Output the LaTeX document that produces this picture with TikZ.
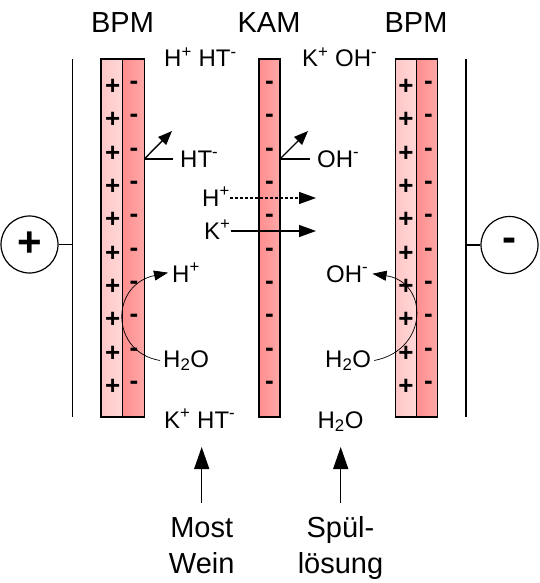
\documentclass[tikz,border=0pt]{standalone}
\usepackage{fontspec}
\setmainfont{Liberation Sans}
\usetikzlibrary{arrows.meta}
\definecolor{memlight}{HTML}{FFC6C6}
\definecolor{memlightB}{HTML}{FFD8D8}
\definecolor{memdark}{HTML}{FF8E8E}
\definecolor{memdarkB}{HTML}{FFA8A8}
\tikzset{
  mline/.style={line width=1.4pt},
  big/.style={font=\fontsize{29}{36}\selectfont, inner sep=0pt},
  ion/.style={font=\fontsize{24}{28}\selectfont, inner sep=0pt},
  sign/.style={font=\fontsize{26}{26}\selectfont\bfseries, inner sep=0pt},
  csign/.style={draw, line width=1.2pt, circle, minimum size=57pt, inner sep=0pt, font=\fontsize{42}{42}\selectfont\bfseries},
  arr/.style={line width=1.4pt, -{Triangle[length=17pt,width=12pt]}},
  smallarr/.style={line width=1.4pt, -{Triangle[length=14pt,width=11pt]}},
  curvarr/.style={line width=0.7pt, -{Triangle[length=14pt,width=10pt]}},
  bigarr/.style={line width=1.4pt, -{Triangle[length=22pt,width=15pt]}},
}
\begin{document}
\begin{tikzpicture}[x=1pt,y=-1pt]
\path[use as bounding box] (0,0) rectangle (539,583);

% membranes
\path[mline, draw, left color=memlight, right color=memlightB] (101,59) rectangle (122.7,417);
\path[mline, draw, left color=memdark, right color=memdarkB] (122.7,59) rectangle (144.3,417);
\path[mline, draw, left color=memdark, right color=memdarkB] (259,59) rectangle (280,417);
\path[mline, draw, left color=memlight, right color=memlightB] (395.3,59) rectangle (416.7,417);
\path[mline, draw, left color=memdark, right color=memdarkB] (416.7,59) rectangle (437.7,417);

\foreach \i in {0,...,9}{
  \node[sign] at (112.7,87+33.33*\i) {+};
  \node[sign] at (134,85.5+33.33*\i) {-};
  \node[sign] at (269.5,85.5+33.33*\i) {-};
  \node[sign] at (406,87+33.33*\i) {+};
  \node[sign] at (428.5,85.5+33.33*\i) {-};
}

% electrodes
\coordinate (eLt) at (72.3,59);
\coordinate (eLb) at (72.3,417);
\coordinate (eRt) at (466,59);
\coordinate (eRb) at (466,417);
\draw[mline] (eLt) -- (eLb);
\draw[mline] (eRt) -- (eRb);
\node[csign] (plusC) at (29.5,244.5) {+};
\node[csign] (minusC) at (509.5,245) {-};
\draw[line width=1.2pt] (plusC.east) -- (plusC.east -| eLt);
\draw[line width=1.2pt] (minusC.west) -- (minusC.west -| eRt);

% titles
\node[big, anchor=base] (bpmL) at (122.5,33) {BPM};
\node[big, anchor=base] (kam) at (269,33) {KAM};
\node[big, anchor=base] (bpmR) at (416,33) {BPM};

% ion labels
\node[ion, anchor=base west] (hht) at (164,67) {H\textsuperscript{+} HT\textsuperscript{-}};
\node[ion, anchor=base west] (koh) at (302,67) {K\textsuperscript{+} OH\textsuperscript{-}};

\node[ion, anchor=base west] (ht) at (180,167) {HT\textsuperscript{-}};
\node[ion, anchor=base west] (oh) at (317,167) {OH\textsuperscript{-}};
\coordinate (htS) at (144.3,159);
\coordinate (htE) at (172,131);
\coordinate (ohS) at (280,159);
\coordinate (ohE) at (308,131);
\draw[mline] (htS) -- ([xshift=-7pt]ht.west |- htS);
\draw[smallarr] (htS) -- (htE);
\draw[mline] (ohS) -- ([xshift=-7pt]oh.west |- ohS);
\draw[smallarr] (ohS) -- (ohE);

\node[ion, anchor=base west] (hp) at (202,206) {H\textsuperscript{+}};
\node[ion, anchor=base west] (kp) at (204,239) {K\textsuperscript{+}};
\coordinate (hpE) at (316,198);
\coordinate (kpE) at (316,231);
\draw[arr, dashed, dash pattern=on 3pt off 2pt] (hp.east |- hpE) -- (hpE);
\draw[arr] (kp.east |- kpE) -- (kpE);

\node[ion, anchor=base west] (hL) at (172,282) {H\textsuperscript{+}};
\node[ion, anchor=base west] (h2oL) at (163,367) {H\textsubscript{2}O};
\node[ion, anchor=base west] (ohR) at (326,282) {OH\textsuperscript{-}};
\node[ion, anchor=base west] (h2oR) at (325,367) {H\textsubscript{2}O};
\draw[curvarr] ([xshift=-3pt]h2oL.west) .. controls (110,352) and (110,285) .. ([xshift=-4pt]hL.west);
\draw[curvarr] ([xshift=3pt]h2oR.east) .. controls (429,350) and (429,282) .. ([xshift=4pt]ohR.east);

\node[ion, anchor=base west] (kht) at (164,428) {K\textsuperscript{+} HT\textsuperscript{-}};
\node[ion, anchor=base] (h2oB) at (340.5,428) {H\textsubscript{2}O};

\node[big, align=center, anchor=base] (most) at (201.7,573) {Most\\Wein};
\node[big, align=center, anchor=base] (spuel) at (340.5,573) {Spül-\\lösung};
\coordinate (a1s) at (201.7,503);
\coordinate (a1e) at (201.7,447);
\coordinate (a2s) at (340.7,503);
\coordinate (a2e) at (340.7,447);
\draw[bigarr] (a1s) -- (a1e);
\draw[bigarr] (a2s) -- (a2e);
\end{tikzpicture}
\end{document}
